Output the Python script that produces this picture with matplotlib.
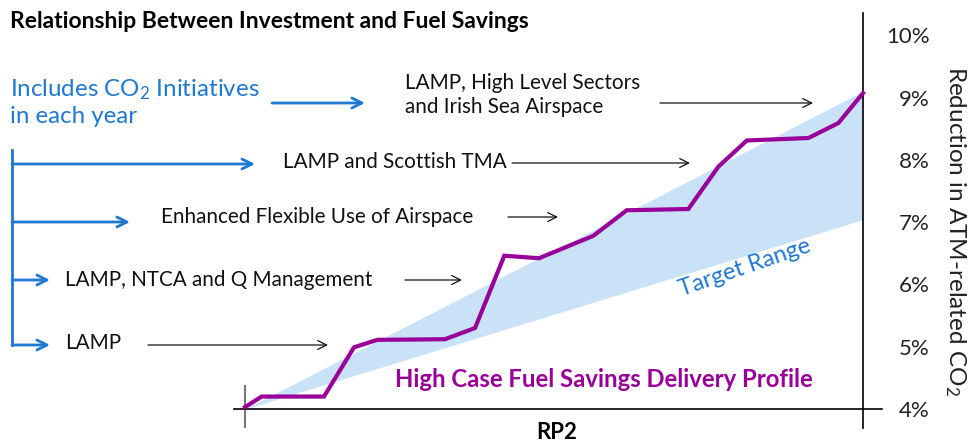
import matplotlib
matplotlib.use("Agg")
from matplotlib import pyplot as plt

plt.rcParams['font.family'] = ['Lato', 'DejaVu Sans']
plt.rcParams['mathtext.fontset'] = 'custom'
plt.rcParams['mathtext.rm'] = 'Lato'
plt.rcParams['mathtext.it'] = 'Lato:italic'
plt.rcParams['mathtext.bf'] = 'Lato:bold'

# delivery profile over RP2 (years from start, % reduction)
years = [0, 0.135, 0.639, 0.882, 1.070, 1.618, 1.861, 2.098, 2.379, 2.818,
         3.089, 3.587, 3.830, 4.060, 4.559, 4.801, 5.0]
savings = [4.03, 4.20, 4.20, 4.99, 5.11, 5.12, 5.30, 6.46, 6.42, 6.78,
           7.19, 7.21, 7.89, 8.31, 8.35, 8.59, 9.07]

# target range band
band_x = [0, 5]
band_low = [4.0, 7.04]
band_high = [4.0, 9.1]

yticks = [4, 5, 6, 7, 8, 9, 10]
ytick_labels = [f"{v}%" for v in yticks]

# initiatives and the arrows pointing at them (pixel layout, top-left origin)
initiatives = ["LAMP, High Level Sectors\nand Irish Sea Airspace",
               "LAMP and Scottish TMA",
               "Enhanced Flexible Use of Airspace",
               "LAMP, NTCA and Q Management",
               "LAMP"]

W, H = 970, 445
purple = "#990099"
blue = "#1f78d1"

def fx(px):
    return px / W

def fy(py):
    return 1 - py / H

fig = plt.figure(figsize=(9.7, 4.45), dpi=100)
ax = fig.add_axes([fx(234), fy(428), (882 - 234) / W, (428 - 13) / H])

px_per_year = 618 / 5
ax.set_xlim(-11 / px_per_year, 5 + 19 / px_per_year)
ax.set_ylim(4 - 19 / 62.3, 4 + 396 / 62.3)

ax.fill_between(band_x, band_low, band_high, color="#c9e2f8", lw=0)
ax.plot(years, savings, color=purple, lw=3, solid_joinstyle="miter", zorder=3)

for s in ["top", "left"]:
    ax.spines[s].set_visible(False)
ax.spines["bottom"].set_position(("data", 4))
ax.spines["right"].set_position(("data", 5))
ax.spines["bottom"].set_linewidth(1.2)
ax.spines["right"].set_linewidth(1.2)
ylo, yhi = ax.get_ylim()
ax.axvline(0, ymin=0, ymax=(4.37 - ylo) / (yhi - ylo), color="#777777", lw=1.5)

ax.set_xticks([])
ax.yaxis.tick_right()
ax.set_yticks(yticks)
ax.set_yticklabels(ytick_labels)
ax.tick_params(axis="y", length=0, pad=48, labelsize=16, labelcolor="#222222")
for lbl in ax.get_yticklabels():
    lbl.set_horizontalalignment("right")

ax.text(2.52, 3.63, "RP2", ha="center", va="center", fontsize=16, fontweight="bold")
ax.text(2.90, 4.47, "High Case Fuel Savings Delivery Profile", ha="center", va="center",
        fontsize=17.2, fontweight="bold", color=purple)
ax.text(4.04, 6.27, "Target Range", ha="center", va="center", fontsize=17,
        color=blue, rotation=19, rotation_mode="anchor")

fig.text(fx(955), fy(231), "Reduction in ATM-related CO$_2$", rotation=270,
         ha="center", va="center", fontsize=17.5, color="#222222")

fig.text(fx(10), fy(22), "Relationship Between Investment and Fuel Savings",
         ha="left", va="center", fontsize=16.5, fontweight="bold")

fig.text(fx(10), fy(102), "Includes CO$_2$ Initiatives\nin each year", ha="left",
         va="center", fontsize=17.4, color=blue, linespacing=1.25)

# initiative labels
label_pos = [(405, 95), (283, 162), (161, 217), (65, 280), (65, 343)]
for txt, (x, y) in zip(initiatives, label_pos):
    fig.text(fx(x), fy(y), txt, ha="left", va="center", fontsize=14.9,
             linespacing=1.25, color="#111111")

# black pointer arrows
black_arrows = [(660, 813, 103), (512, 690, 163), (508, 558, 217),
                (405, 462, 280), (148, 328, 345)]
for x0, x1, y in black_arrows:
    ax.annotate("", xy=(fx(x1), fy(y)), xytext=(fx(x0), fy(y)),
                xycoords="figure fraction", textcoords="figure fraction",
                arrowprops=dict(arrowstyle="->", color="#111111", lw=0.9,
                                mutation_scale=16, shrinkA=0, shrinkB=0))

# blue bracket
fig.add_artist(plt.Line2D([fx(12), fx(12)], [fy(150), fy(345)], color=blue, lw=2))
blue_arrows = [(272, 365, 103), (12, 255, 164), (12, 130, 222), (12, 50, 280), (12, 50, 345)]
for x0, x1, y in blue_arrows:
    ax.annotate("", xy=(fx(x1), fy(y)), xytext=(fx(x0), fy(y)),
                xycoords="figure fraction", textcoords="figure fraction",
                arrowprops=dict(arrowstyle="->", color=blue, lw=2,
                                mutation_scale=18, shrinkA=0, shrinkB=0))

fig.savefig("out.png", dpi=100)
